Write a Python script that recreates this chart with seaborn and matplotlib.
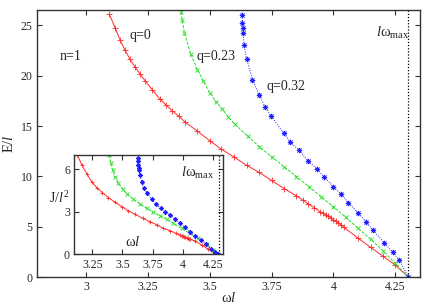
import numpy as np
import pandas as pd
import matplotlib
matplotlib.use("Agg")
import matplotlib.pyplot as plt
import seaborn as sns

# ---------------- data ----------------
# main panel: E/l vs omega*l
w_q0 = [3.094, 3.118, 3.138, 3.158, 3.178, 3.197, 3.217, 3.238, 3.268, 3.297,
        3.323, 3.349, 3.374, 3.400, 3.450, 3.500, 3.547, 3.600, 3.649, 3.700,
        3.750, 3.801, 3.851, 3.876, 3.898, 3.923, 3.946, 3.960, 3.970, 3.980,
        3.990, 4.000, 4.010, 4.020, 4.030, 4.043, 4.100, 4.151, 4.200, 4.250, 4.304]
E_q0 = [26.1, 24.7, 23.5, 22.5, 21.6, 20.9, 20.2, 19.5, 18.6, 17.7,
        17.1, 16.5, 16.0, 15.4, 14.5, 13.55, 12.7, 11.9, 11.1, 10.4,
        9.6, 8.8, 8.07, 7.67, 7.27, 6.9, 6.5, 6.35, 6.2, 6.05,
        5.9, 5.7, 5.55, 5.4, 5.2, 4.96, 3.87, 2.97, 2.1, 1.22, 0.0]

w_q023 = [3.385, 3.389, 3.398, 3.423, 3.450, 3.474, 3.500, 3.526, 3.551, 3.574,
          3.601, 3.653, 3.700, 3.750, 3.800, 3.851, 3.901, 3.950, 4.000, 4.050,
          4.100, 4.151, 4.200, 4.250, 4.304]
E_q023 = [26.3, 25.5, 24.2, 22.15, 20.6, 19.5, 18.3, 17.4, 16.7, 15.9,
          15.2, 14.0, 12.96, 11.96, 10.97, 9.98, 8.99, 8.0, 7.0, 5.95,
          4.86, 3.77, 2.64, 1.39, 0.0]

w_q032 = [3.631, 3.632, 3.634, 3.635, 3.639, 3.650, 3.673, 3.700, 3.724, 3.747,
          3.800, 3.825, 3.861, 3.898, 3.932, 3.962, 4.000, 4.031, 4.061, 4.100,
          4.131, 4.159, 4.206, 4.240, 4.266, 4.304]
E_q032 = [26.0, 25.2, 24.7, 24.2, 23.0, 21.6, 19.6, 18.1, 16.9, 16.0,
          14.3, 13.45, 12.6, 11.54, 10.74, 9.98, 8.99, 8.23, 7.4, 6.41,
          5.52, 4.69, 3.43, 2.48, 1.72, 0.0]

# inset: J/l^2 vs omega*l
wi_q0 = [3.127, 3.163, 3.205, 3.246, 3.287, 3.334, 3.383, 3.439, 3.494, 3.548,
         3.604, 3.667, 3.728, 3.788, 3.837, 3.893, 3.942, 3.975, 3.990, 4.000,
         4.010, 4.020, 4.030, 4.040, 4.050, 4.060, 4.099, 4.154, 4.209, 4.256, 4.292]
J_q0 = [7.0, 6.30, 5.67, 5.12, 4.70, 4.35, 4.0, 3.67, 3.36, 3.08,
        2.82, 2.54, 2.30, 2.07, 1.83, 1.67, 1.48, 1.36, 1.30, 1.27,
        1.24, 1.20, 1.16, 1.12, 1.08, 1.05, 0.96, 0.66, 0.37, 0.18, 0.02]

wi_q023 = [3.392, 3.403, 3.419, 3.439, 3.466, 3.502, 3.540, 3.590, 3.645, 3.700,
           3.755, 3.810, 3.865, 3.920, 3.989, 4.058, 4.126, 4.196, 4.250, 4.292]
J_q023 = [7.0, 6.42, 5.95, 5.48, 5.01, 4.59, 4.23, 3.88, 3.55, 3.25,
          2.96, 2.72, 2.47, 2.19, 1.83, 1.48, 1.13, 0.73, 0.30, 0.02]

wi_q032 = [3.626, 3.628, 3.631, 3.634, 3.637, 3.645, 3.659, 3.678, 3.705, 3.742,
           3.777, 3.816, 3.851, 3.893, 3.934, 3.975, 4.017, 4.058, 4.099, 4.146,
           4.190, 4.229, 4.264, 4.292]
J_q032 = [6.75, 6.55, 6.30, 6.1, 5.95, 5.60, 5.12, 4.66, 4.30, 3.88,
          3.55, 3.25, 3.01, 2.77, 2.49, 2.19, 1.91, 1.60, 1.29, 1.01,
          0.71, 0.40, 0.18, 0.02]

omega_max = 4.30

main_xticks = [3, 3.25, 3.5, 3.75, 4, 4.25]
main_xticklabels = ["3", "3.25", "3.5", "3.75", "4", "4.25"]
main_yticks = [0, 5, 10, 15, 20, 25]
inset_xticks = [3.25, 3.5, 3.75, 4, 4.25]
inset_xticklabels = ["3.25", "3.5", "3.75", "4", "4.25"]
inset_yticks = [0, 3, 6]

# ---------------- style ----------------
sns.set_style("ticks")
plt.rcParams["font.family"] = ["Liberation Serif", "DejaVu Serif"]
plt.rcParams["mathtext.fontset"] = "custom"
plt.rcParams["mathtext.rm"] = "Liberation Serif"
plt.rcParams["mathtext.it"] = "Liberation Serif:italic"
plt.rcParams["axes.linewidth"] = 1.0
plt.rcParams["axes.edgecolor"] = "#333333"

RED = "#ff2a2a"
GREEN = "#22dd22"
BLUE = "#2020ff"

fig = plt.figure(figsize=(4.36, 3.05), dpi=100)
ax = fig.add_axes([0.084, 0.091, 0.879, 0.876])
axi = fig.add_axes([0.170, 0.166, 0.341, 0.326])

asterisk = (8, 2, 0)


def draw(a, xs, ys, color, marker, ls, ms):
    df = pd.DataFrame({"x": xs, "y": ys})
    sns.lineplot(data=df, x="x", y="y", ax=a, color=color, linestyle=ls,
                 linewidth=0.7, marker=marker, markersize=ms,
                 markeredgewidth=0.6, markeredgecolor=color, sort=False,
                 estimator=None)


for a, series in [
    (ax, [(w_q0, E_q0, RED, "+", "-", 4),
          (w_q023, E_q023, GREEN, "x", (0, (3, 1.5)), 3.5),
          (w_q032, E_q032, BLUE, asterisk, (0, (1, 1.5)), 3.8)]),
    (axi, [(wi_q0, J_q0, RED, "+", "-", 3.3),
           (wi_q023, J_q023, GREEN, "x", (0, (3, 1.5)), 3),
           (wi_q032, J_q032, BLUE, asterisk, (0, (1, 1.5)), 3.3)]),
]:
    for xs, ys, c, m, ls, ms in series:
        draw(a, xs, ys, c, m, ls, ms)
    a.axvline(omega_max, color="black", linestyle=(0, (1, 1.5)), linewidth=0.9)
    a.tick_params(direction="in", top=True, right=True, length=3.5,
                  width=0.8, labelsize=8.5, pad=3, color="#333333")

# main axes
ax.set_xlim(2.8, 4.35)
ax.set_ylim(0, 26.5)
ax.set_xticks(main_xticks)
ax.set_xticklabels(main_xticklabels)
ax.set_yticks(main_yticks)
ax.set_xlabel(r"$\mathrm{ω}l$", fontsize=10.5, labelpad=-2)
ax.set_ylabel(r"$\mathrm{E/}l$", fontsize=10.5, labelpad=3)

ax.text(2.895, 21.9, "n=1", fontsize=10, va="center", ha="left")
ax.text(3.175, 24.0, "q=0", fontsize=10, va="center", ha="left")
ax.text(3.447, 21.85, "q=0.23", fontsize=10, va="center", ha="left")
ax.text(3.73, 18.9, "q=0.32", fontsize=10, va="center", ha="left")
ax.text(4.172, 24.2, r"$l\mathrm{ω}_{\mathrm{max}}$", fontsize=10.5,
        va="center", ha="left")

# inset axes
axi.set_facecolor("white")
axi.set_xlim(3.1, 4.33)
axi.set_ylim(0, 7)
axi.set_xticks(inset_xticks)
axi.set_xticklabels(inset_xticklabels)
axi.set_yticks(inset_yticks)
axi.set_xlabel("")
axi.set_ylabel("")
axi.text(3.52, 0.9, r"$\mathrm{ω}l$", fontsize=10.5, va="center", ha="left")
axi.text(3.985, 5.7, r"$l\mathrm{ω}_{\mathrm{max}}$", fontsize=10.5,
         va="center", ha="left")
fig.text(0.113, (305 - 198.5) / 305, r"$\mathrm{J/}l^{2}$", fontsize=10,
         va="center", ha="left")

fig.savefig("out.png", dpi=100)
